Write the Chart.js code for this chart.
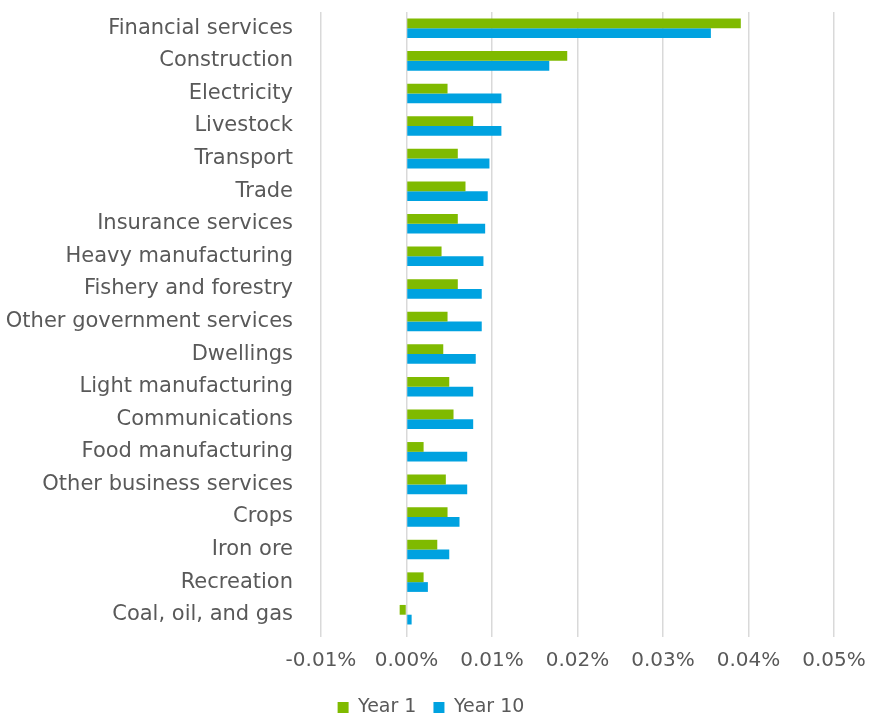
<!DOCTYPE html>
<html lang="en">
<head>
    <meta charset="UTF-8">
    <title>Sector output change</title>
    <script src="https://cdn.jsdelivr.net/npm/chart.js"></script>
    <style>
        html, body { margin: 0; padding: 0; background: #ffffff; }
        .wrap { position: relative; width: 870px; height: 717px; }
    </style>
</head>
<body>
    <div class="wrap"><canvas id="sectorChart"></canvas></div>

    <script>
        const sectors = [
            'Financial services', 'Construction', 'Electricity', 'Livestock', 'Transport',
            'Trade', 'Insurance services', 'Heavy manufacturing', 'Fishery and forestry',
            'Other government services', 'Dwellings', 'Light manufacturing', 'Communications',
            'Food manufacturing', 'Other business services', 'Crops', 'Iron ore', 'Recreation',
            'Coal, oil, and gas'
        ];
        // values in percent
        const year1 = [0.0391, 0.0188, 0.0048, 0.0078, 0.0060, 0.0069, 0.0060, 0.0041, 0.0060,
                       0.0048, 0.0043, 0.0050, 0.0055, 0.0020, 0.0046, 0.0048, 0.0036, 0.0020, -0.0008];
        const year10 = [0.0356, 0.0167, 0.0111, 0.0111, 0.0097, 0.0095, 0.0092, 0.0090, 0.0088,
                        0.0088, 0.0081, 0.0078, 0.0078, 0.0071, 0.0071, 0.0062, 0.0050, 0.0025, 0.0006];
        const xMin = -0.01, xMax = 0.05, xStep = 0.01;

        const txt = '#595959';
        const fontFam = "'DejaVu Sans', sans-serif";

        // push the legend a bit lower and to the right, like the original
        const legendNudge = {
            id: 'legendNudge',
            afterLayout(chart) {
                chart.legend.top += 10;
                chart.legend.bottom += 10;
                chart.legend.left += 14;
                chart.legend.right += 14;
            }
        };

        new Chart(document.getElementById('sectorChart'), {
            type: 'bar',
            data: {
                labels: sectors,
                datasets: [
                    { label: 'Year 1', data: year1, backgroundColor: '#7fba00', borderWidth: 0 },
                    { label: 'Year 10', data: year10, backgroundColor: '#00a2e0', borderWidth: 0 }
                ]
            },
            options: {
                indexAxis: 'y',
                responsive: true,
                maintainAspectRatio: false,
                animation: false,
                layout: { padding: { top: 12, right: 36, left: 0, bottom: 0 } },
                datasets: { bar: { categoryPercentage: 0.6, barPercentage: 1.0 } },
                scales: {
                    x: {
                        min: xMin, max: xMax,
                        border: { display: false },
                        grid: { color: '#d9d9d9', lineWidth: 1.5, drawTicks: true, tickLength: 6 },
                        ticks: {
                            stepSize: xStep,
                            color: txt,
                            padding: 12,
                            font: { family: fontFam, size: 20 },
                            callback: (v) => v.toFixed(2) + '%'
                        },
                        afterFit: (s) => { s.height = 40; s.paddingLeft = 0; s.paddingRight = 0; }
                    },
                    y: {
                        border: { display: false },
                        grid: { display: false },
                        ticks: { color: txt, padding: 20, font: { family: fontFam, size: 21 } },
                        afterFit: (s) => { s.width = 321; s.paddingTop = 0; s.paddingBottom = 0; }
                    }
                },
                plugins: {
                    legend: {
                        position: 'bottom',
                        labels: {
                            color: txt,
                            boxWidth: 11,
                            boxHeight: 11,
                            padding: 17,
                            font: { family: fontFam, size: 19 }
                        }
                    },
                    tooltip: { enabled: false }
                }
            },
            plugins: [legendNudge]
        });
    </script>
</body>
</html>
